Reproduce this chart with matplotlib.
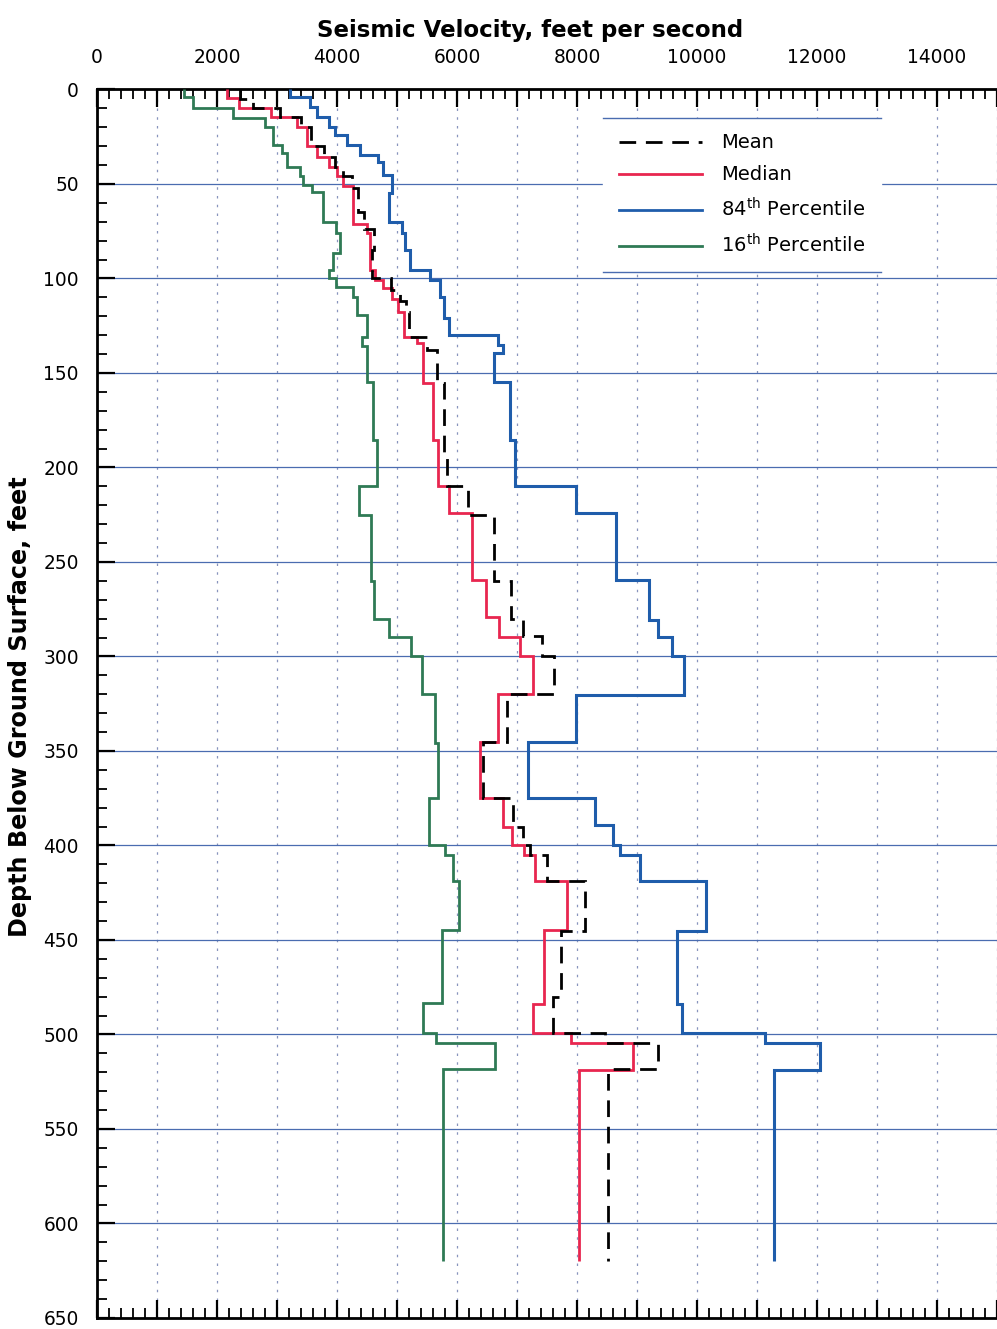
import matplotlib
matplotlib.use("Agg")
import matplotlib.pyplot as plt
from matplotlib.ticker import MultipleLocator, FuncFormatter
from matplotlib.lines import Line2D

# ===================== data =====================
# each profile: layer boundaries (feet) and velocity inside each layer (ft/s)
mean_edges = [0, 5, 10, 14.4, 20, 30, 35.5, 41, 46, 52, 65, 74, 85, 100, 106, 112, 118, 131, 138,
              155.5, 195, 210, 225, 260, 280, 289, 300, 320, 345, 375, 390, 400, 405, 419, 445,
              480, 499.4, 504.3, 518.4, 620]
mean_vel = [2380, 2600, 3050, 3400, 3560, 3780, 3960, 4100, 4250, 4345, 4450, 4620, 4590, 4900,
            5050, 5150, 5200, 5500, 5660, 5780, 5830, 6190, 6620, 6900, 7100, 7420, 7620, 6840,
            6440, 6940, 7100, 7222, 7500, 8130, 7740, 7600, 8470, 9350, 8520]

median_edges = [0, 4.7, 10, 14.4, 19.7, 30, 35.5, 41, 46, 51, 71, 76, 95.5, 100.8, 105, 111, 118,
                130.8, 134, 155.5, 185.4, 210, 224, 259.5, 279, 289.5, 300, 320, 345, 375, 390,
                400, 405, 419, 444.7, 484, 499.4, 504.5, 518.8, 620]
median_vel = [2160, 2360, 2900, 3330, 3500, 3660, 3860, 4000, 4100, 4270, 4500, 4550, 4640, 4770,
              4910, 5020, 5110, 5330, 5440, 5600, 5690, 5870, 6245, 6490, 6706, 7050, 7262, 6689,
              6383, 6772, 6922, 7111, 7306, 7833, 7444, 7270, 7900, 8930, 8040]

p84_edges = [0, 3.8, 9.1, 14.4, 19.7, 24, 29.4, 34.6, 38.2, 45.2, 55, 70, 76, 85, 95.5, 100.8,
             109.6, 121, 130, 135, 139.6, 154.6, 185.5, 210, 224.3, 259.6, 280.7, 289.5, 300,
             320.4, 345, 375, 389, 400, 405, 419, 445, 484, 499.4, 504.5, 519, 620]
p84_vel = [3220, 3550, 3660, 3860, 3970, 4160, 4380, 4690, 4770, 4910, 4860, 5080, 5130, 5220,
           5550, 5720, 5780, 5860, 6690, 6770, 6610, 6880, 6966, 7980, 8650, 9200, 9355, 9580,
           9790, 7990, 7190, 8300, 8600, 8720, 9056, 10150, 9673, 9756, 11137, 12048, 11275]

p16_edges = [0, 3.8, 10, 15.3, 19.7, 29.4, 33.8, 41, 46, 50.5, 54, 70, 76, 86.7, 95.5, 100, 104.3,
             109.6, 119.3, 130.8, 136, 154.6, 185.4, 210, 225, 260, 280, 289.5, 300, 320, 346,
             375, 400, 405, 419, 444.7, 483.5, 499.4, 504.4, 518.5, 620]
p16_vel = [1450, 1600, 2270, 2800, 2940, 3080, 3160, 3380, 3440, 3580, 3770, 3990, 4050, 3940,
           3860, 3990, 4270, 4330, 4500, 4410, 4500, 4600, 4660, 4370, 4570, 4610, 4860, 5240,
           5410, 5630, 5690, 5530, 5800, 5940, 6040, 5750, 5430, 5650, 6630, 5770]

X_MAX = 15000
Y_MAX = 650

# ===================== style =====================
plt.rcParams["font.family"] = ["DejaVu Sans"]

RED = "#e8264f"
BLUE = "#1f5dab"
GREEN = "#2f7a55"
GRID_BLUE = "#4a6cb0"
MEAN_DASH = (0, (6, 3.5))

fig = plt.figure(figsize=(9.97, 13.29), dpi=100)
ax = fig.add_axes([0.0973, 0.0083, 0.9027, 0.9244])

ax.stairs(p16_vel, p16_edges, orientation="horizontal", baseline=None,
          color=GREEN, lw=2.0, zorder=3)
ax.stairs(p84_vel, p84_edges, orientation="horizontal", baseline=None,
          color=BLUE, lw=2.2, zorder=3)
ax.stairs(median_vel, median_edges, orientation="horizontal", baseline=None,
          color=RED, lw=2.0, zorder=4)
ax.stairs(mean_vel, mean_edges, orientation="horizontal", baseline=None,
          color="black", lw=2.0, linestyle=MEAN_DASH, zorder=5)

ax.set_xlim(0, X_MAX)
ax.set_ylim(Y_MAX, 0)

# ticks
ax.xaxis.set_major_locator(MultipleLocator(1000))
ax.xaxis.set_minor_locator(MultipleLocator(200))
ax.xaxis.set_major_formatter(FuncFormatter(lambda v, p: f"{int(v)}" if v % 2000 == 0 and v < X_MAX else ""))
ax.yaxis.set_major_locator(MultipleLocator(50))
ax.yaxis.set_minor_locator(MultipleLocator(10))

ax.tick_params(axis="x", which="both", direction="in", top=True, bottom=True,
               labeltop=True, labelbottom=False, labelsize=13.4, pad=16)
ax.tick_params(axis="y", which="both", direction="in", left=True, right=False,
               labelsize=13.4, pad=13)
ax.tick_params(which="major", length=13, width=1.6)
ax.tick_params(which="minor", length=7, width=1.3)

# grid
ax.grid(axis="y", which="major", color=GRID_BLUE, lw=0.9, zorder=1)
ax.grid(axis="x", which="major", color="#8894bd", lw=0.9, linestyle=(0, (2, 5)), zorder=1)
ax.set_axisbelow(True)

for side in ["top", "left", "bottom"]:
    ax.spines[side].set_linewidth(2.0)
ax.spines["right"].set_visible(False)

ax.xaxis.set_label_position("top")
ax.set_xlabel("Seismic Velocity, feet per second", fontsize=16.5, fontweight="bold")
ax.xaxis.set_label_coords(0.481, 1.0427)
ax.set_ylabel("Depth Below Ground Surface, feet", fontsize=17.2, fontweight="bold")
ax.yaxis.set_label_coords(-0.072, 0.4974)

# legend in Mean, Median, 84th, 16th order
leg_handles = [Line2D([], [], color="black", lw=2.0, linestyle=MEAN_DASH),
               Line2D([], [], color=RED, lw=2.0),
               Line2D([], [], color=BLUE, lw=2.0),
               Line2D([], [], color=GREEN, lw=2.0)]
leg_labels = ["Mean", "Median", r"84$^{\rm th}$ Percentile", r"16$^{\rm th}$ Percentile"]
leg = ax.legend(leg_handles, leg_labels,
                loc="upper left", bbox_to_anchor=(0.5622, 0.9768), fontsize=14,
                frameon=True, fancybox=False, framealpha=1, edgecolor="white",
                handlelength=4.27, handletextpad=1.0, labelspacing=0.66,
                borderpad=0.8, borderaxespad=0)
leg.set_zorder(6)

# thin rules above and below the legend box, as in the original
fig.canvas.draw()
bb = leg.get_window_extent().transformed(ax.transAxes.inverted())
for yy in (bb.y0, bb.y1):
    ax.add_line(Line2D([bb.x0, bb.x1], [yy, yy], transform=ax.transAxes,
                       color=GRID_BLUE, lw=1.0, zorder=7))

fig.savefig("out.png", dpi=100)
